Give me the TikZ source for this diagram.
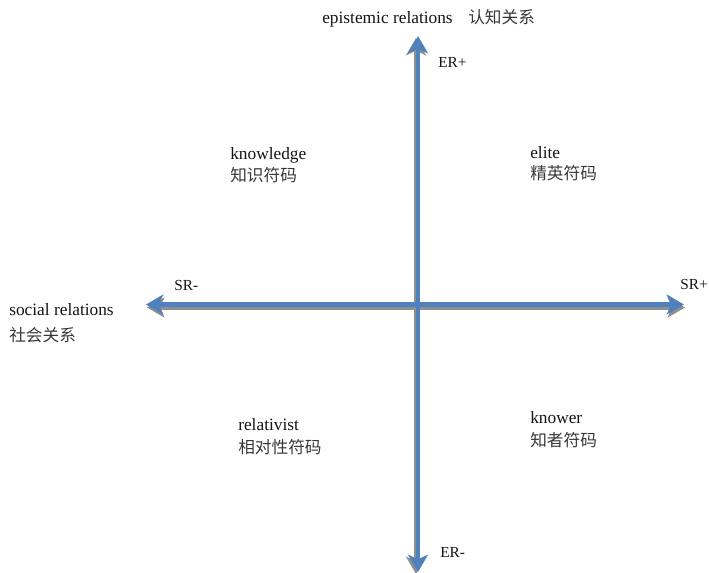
\documentclass[tikz,border=0pt]{standalone}
\usepackage{fontspec}
\setmainfont{Liberation Serif}
\newfontfamily\cjk{Noto Sans CJK SC}
\usepackage{xcolor}
\usepackage{tikz}
\usetikzlibrary{arrows.meta}

\definecolor{assecol}{HTML}{4F81BD}
\definecolor{ombracol}{HTML}{8E8E8E}

\tikzset{
	asse/.style={line width=3.7pt, {Stealth[length=13pt, width=15pt, inset=3.5pt]}-{Stealth[length=13pt, width=15pt, inset=3.5pt]}},
	etichetta/.style={inner sep=0pt, anchor=base west, font=\fontsize{13}{16}\selectfont, text=black!92},
	segno/.style={etichetta, font=\fontsize{11.5}{14}\selectfont},
	cinese/.style={inner sep=0pt, anchor=base west, font=\cjk\fontsize{12.5}{15}\selectfont, text=black!78}
}

\begin{document}
\begin{tikzpicture}[x=0.75pt, y=-0.75pt]
	\useasboundingbox (0,0) rectangle (709,573);
	% estremi degli assi
	\coordinate (sx) at (146,304.5);
	\coordinate (dx) at (684,304.5);
	\coordinate (su) at (418,36);
	\coordinate (giu) at (418,572);
	
	% assi (ombra + asse)
	\draw[asse, ombracol] ([shift={(1,3)}]sx) -- ([shift={(1,3)}]dx);
	\draw[asse, ombracol] ([shift={(-2,2)}]su) -- ([shift={(-2,2)}]giu);
	\draw[asse, assecol] (sx) -- (dx);
	\draw[asse, assecol] (su) -- (giu);
	
	% etichette assi
	\node[etichetta] (er) at (322,24) {epistemic relations};
	\node[cinese] (erzh) at (468,24) {认知关系};
	\node[segno] (erpiu) at (438,68) {ER+};
	\node[segno] (ermeno) at (440,557) {ER-};
	\node[segno] (srmeno) at (174,291) {SR-};
	\node[segno] (srpiu) at (680,290) {SR+};
	\node[etichetta] (sr) at (9,315) {social relations};
	\node[cinese] (srzh) at ([yshift=-19.5pt]sr.base west) {社会关系};
	
	% quadranti
	\node[etichetta] (know) at (230,160) {knowledge};
	\node[cinese] (knowzh) at ([yshift=-16.5pt]know.base west) {知识符码};
	\node[etichetta] (elite) at (530,159) {elite};
	\node[cinese] (elitezh) at ([yshift=-15.5pt]elite.base west) {精英符码};
	\node[etichetta] (rel) at (238,430) {relativist};
	\node[cinese] (relzh) at ([yshift=-17.5pt]rel.base west) {相对性符码};
	\node[etichetta] (knower) at (530,423) {knower};
	\node[cinese] (knowerzh) at ([yshift=-17.5pt]knower.base west) {知者符码};
\end{tikzpicture}
\end{document}
